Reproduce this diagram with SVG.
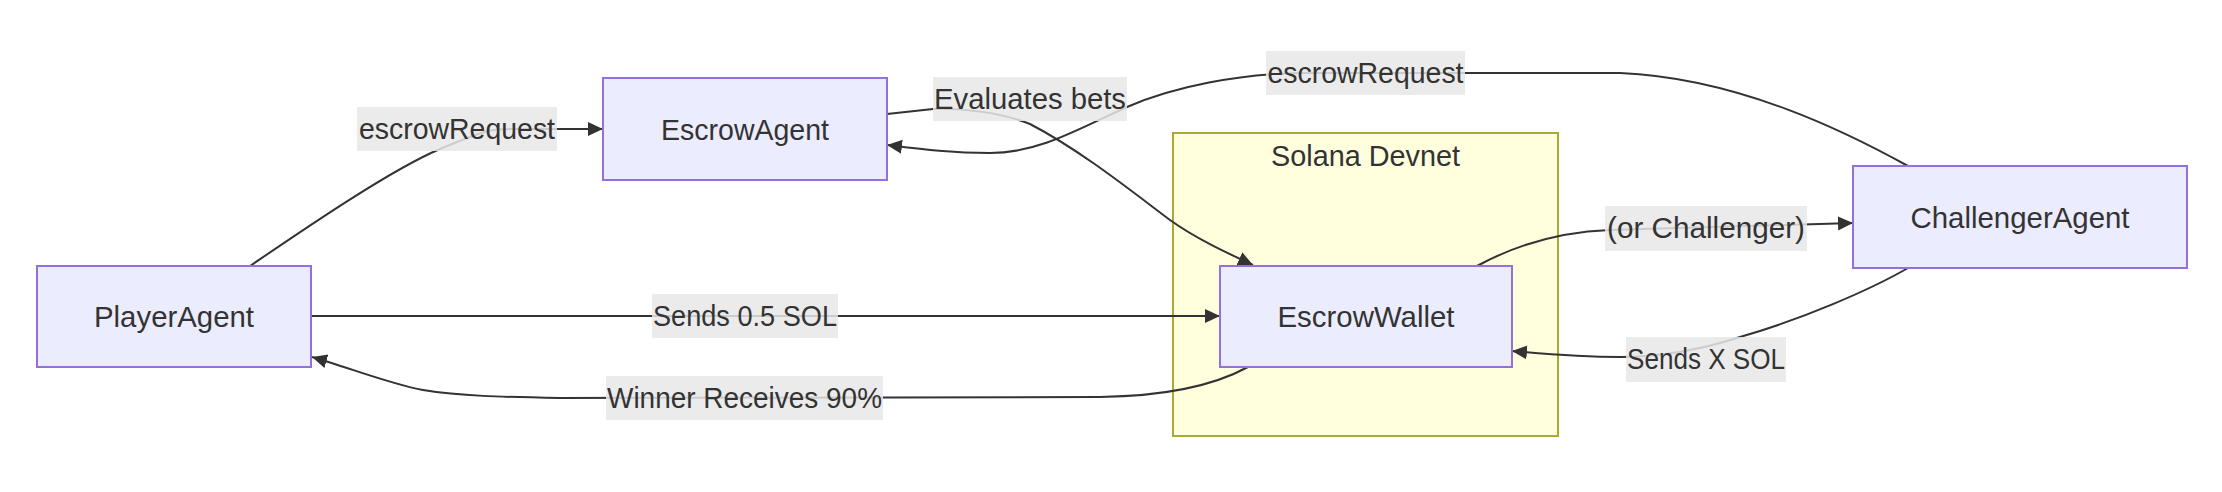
<svg xmlns="http://www.w3.org/2000/svg" width="2222" height="492" viewBox="0 0 2222 492">
<defs>
<style>
.node rect{fill:#ECECFF;stroke:#9370DB;stroke-width:2;}
.cluster rect{fill:#ffffde;stroke:#aaaa33;stroke-width:2;}
text{font-family:"Liberation Sans",Arial,sans-serif;font-size:29px;fill:#333333;text-anchor:middle;}
.edge{fill:none;stroke:#333333;stroke-width:2;}
.lbl rect{fill:#e8e8e8;fill-opacity:0.85;}
</style>
<marker id="arrow" markerUnits="userSpaceOnUse" markerWidth="16" markerHeight="15" refX="15" refY="7" orient="auto">
<path d="M0,0 L15,7 L0,14 z" fill="#333333"/>
</marker>
</defs>
<rect width="2222" height="492" fill="#ffffff"/>
<g id="cluster-solana" class="cluster">
<rect x="1173" y="133" width="385" height="303"/>
<text x="1365.5" y="166" textLength="189" lengthAdjust="spacingAndGlyphs">Solana Devnet</text>
</g>
<g id="edges">
<path class="edge" d="M250,266 C300,232 390,170 440,149 S490,129 520,129 L603,129" marker-end="url(#arrow)"/>
<path class="edge" d="M887,114 L933,109 C960,108 1000,112 1030,124 C1080,150 1130,190 1170,220 C1195,238 1225,252 1253,265" marker-end="url(#arrow)"/>
<path class="edge" d="M1908,166 C1850,134 1740,78 1620,73 L1300,73 C1240,74 1175,86 1127,107 C1080,128 1040,153 990,153 C950,153 920,149 887,145" marker-end="url(#arrow)"/>
<path class="edge" d="M311,316 L1220,316" marker-end="url(#arrow)"/>
<path class="edge" d="M1248,367 C1215,385 1170,396 1100,397 L560,398 C500,397 460,396 423,390 C390,384 350,368 312,357" marker-end="url(#arrow)"/>
<path class="edge" d="M1477,266 C1510,248 1555,232 1610,230 L1853,223" marker-end="url(#arrow)"/>
<path class="edge" d="M1908,268 C1870,290 1800,320 1740,337 C1700,350 1660,357 1620,357 C1580,357 1545,354 1512,351" marker-end="url(#arrow)"/>
</g>
<g id="edge-labels">
<g class="lbl" id="label-escrowRequest-1"><rect x="357" y="107" width="200" height="44"/><text x="457" y="139" textLength="196" lengthAdjust="spacingAndGlyphs">escrowRequest</text></g>
<g class="lbl" id="label-evaluates"><rect x="933" y="77" width="194" height="44"/><text x="1030" y="109" textLength="192" lengthAdjust="spacingAndGlyphs">Evaluates bets</text></g>
<g class="lbl" id="label-escrowRequest-2"><rect x="1266" y="51" width="199" height="44"/><text x="1365.5" y="83" textLength="196" lengthAdjust="spacingAndGlyphs">escrowRequest</text></g>
<g class="lbl" id="label-sends05"><rect x="652" y="294" width="186" height="44"/><text x="745" y="326" textLength="184" lengthAdjust="spacingAndGlyphs">Sends 0.5 SOL</text></g>
<g class="lbl" id="label-winner"><rect x="606" y="376" width="277" height="44"/><text x="744.5" y="408" textLength="275" lengthAdjust="spacingAndGlyphs">Winner Receives 90%</text></g>
<g class="lbl" id="label-orchallenger"><rect x="1605" y="206" width="202" height="45"/><text x="1706" y="238" textLength="198" lengthAdjust="spacingAndGlyphs">(or Challenger)</text></g>
<g class="lbl" id="label-sendsx"><rect x="1626" y="337" width="160" height="45"/><text x="1706" y="369" textLength="158" lengthAdjust="spacingAndGlyphs">Sends X SOL</text></g>
</g>
<g id="PlayerAgent" class="node">
<rect x="37" y="266" width="274" height="101"/>
<text x="174" y="327" textLength="160" lengthAdjust="spacingAndGlyphs">PlayerAgent</text>
</g>
<g id="EscrowAgent" class="node">
<rect x="603" y="78" width="284" height="102"/>
<text x="745" y="139.5" textLength="168" lengthAdjust="spacingAndGlyphs">EscrowAgent</text>
</g>
<g id="EscrowWallet" class="node">
<rect x="1220" y="266" width="292" height="101"/>
<text x="1366" y="327" textLength="177" lengthAdjust="spacingAndGlyphs">EscrowWallet</text>
</g>
<g id="ChallengerAgent" class="node">
<rect x="1853" y="166" width="334" height="102"/>
<text x="2020" y="228" textLength="219" lengthAdjust="spacingAndGlyphs">ChallengerAgent</text>
</g>
</svg>
